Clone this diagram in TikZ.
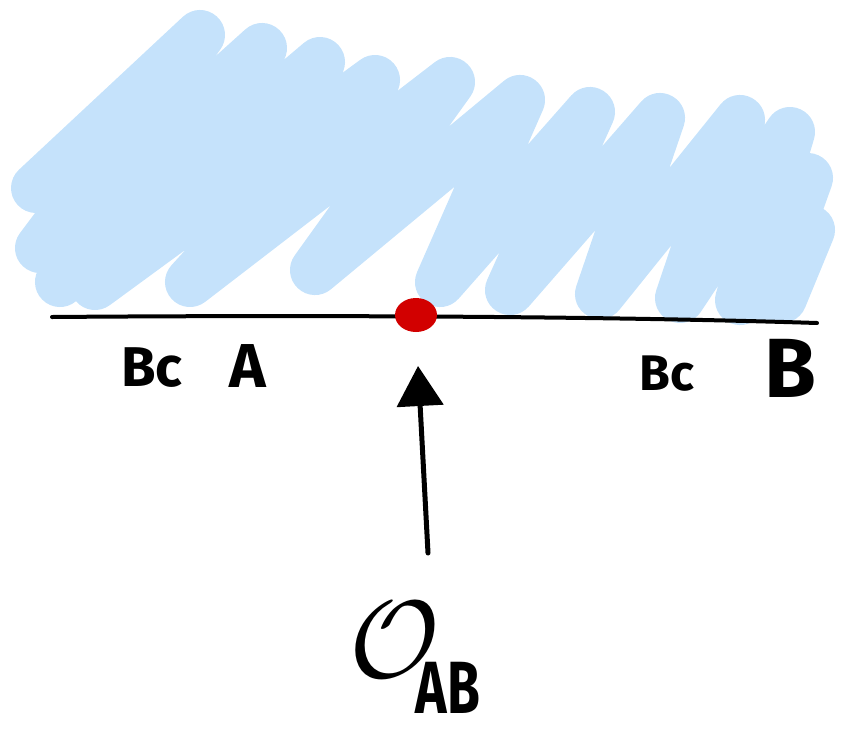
\documentclass[tikz,border=0pt]{standalone}
\usepackage{fontspec}
\setmainfont{Fira Sans}
\usetikzlibrary{arrows.meta,shapes.geometric}
\definecolor{scrib}{HTML}{C5E2FB}
\definecolor{dotred}{HTML}{D20000}
\tikzset{
  lbl/.style={font=\fontsize{62}{64}\selectfont\bfseries, inner sep=0pt, text=black},
  scribble/.style={line width=50pt, line cap=round, line join=round, draw=scrib},
  base/.style={line width=4pt, line cap=round, draw=black},
}
\begin{document}
\begin{tikzpicture}[x=1pt,y=-1pt]
\useasboundingbox (0,0) rectangle (845,734);
% blue scribble
\draw[scribble] (36,188) -- (200,35) -- (40,248) -- (262,48) -- (60,282) -- (320,62) -- (95,285) -- (375,80) -- (190,282) -- (450,82) -- (315,270) -- (520,100) -- (440,282) -- (590,112) -- (510,290) -- (660,118) -- (600,294) -- (740,120) -- (680,298) -- (790,132) -- (740,300) -- (808,178) -- (765,298) -- (810,230) -- (782,298);
% base line
\coordinate (L) at (52,317);
\coordinate (R) at (817,323);
\draw[base] (L) .. controls (300,315) and (600,316) .. (R);
% red dot
\node[draw=none, fill=dotred, ellipse, minimum width=42pt, minimum height=34pt, inner sep=0pt] (dot) at (416,315) {};
% arrow
\coordinate (tail) at (428,553);
\coordinate (tip) at (418,366);
\draw[line width=5pt, line cap=round, -{Triangle[length=40pt,width=46pt]}] (tail) -- (tip);
% labels
\node[lbl, font=\fontsize{56}{58}\selectfont\bfseries] (bc1) at (152,368) {Bc};
\node[lbl] (a) at (248,366) {A};
\node[lbl, font=\fontsize{50}{52}\selectfont\bfseries] (bc2) at (667,374) {Bc};
\node[lbl, font=\fontsize{84}{86}\selectfont\bfseries] (b) at (790,368) {B};
\node[inner sep=0pt, scale=11] (opO) at (395,640) {$\mathcal{O}$};
\node[lbl, font=\fontsize{74}{76}\selectfont\bfseries, xscale=0.72] (opAB) at (448,688) {AB};
\end{tikzpicture}
\end{document}
